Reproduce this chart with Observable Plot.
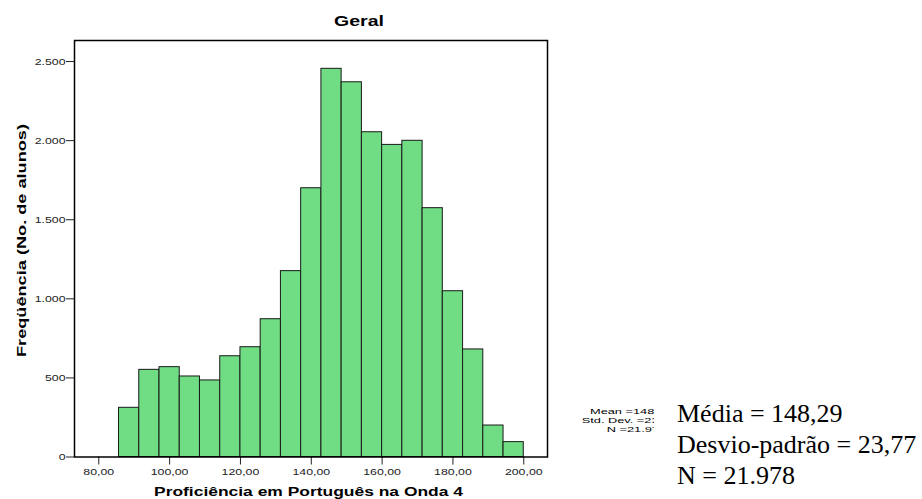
<!DOCTYPE html>
<html><head><meta charset="utf-8">
<script src="https://cdn.jsdelivr.net/npm/d3@7"></script>
<script src="https://cdn.jsdelivr.net/npm/@observablehq/plot@0.6"></script>
<style>
body{margin:0;background:#fff}
#chart{position:relative;width:922px;height:499px}
</style>
</head><body><div id="chart"></div>
<script>
// ---- data ----
const binStart = [85.71, 91.43, 97.14, 102.86, 108.57, 114.29, 120.00, 125.71, 131.43, 137.14, 142.86, 148.57, 154.29, 160.00, 165.71, 171.43, 177.14, 182.86, 188.57, 194.29];
const binEnd   = [91.43, 97.14, 102.86, 108.57, 114.29, 120.00, 125.71, 131.43, 137.14, 142.86, 148.57, 154.29, 160.00, 165.71, 171.43, 177.14, 182.86, 188.57, 194.29, 200.00];
const counts   = [311, 551, 568, 509, 484, 637, 694, 871, 1175, 1699, 2454, 2369, 2053, 1973, 1999, 1573, 1048, 680, 199, 94];
const xTicks = [80, 100, 120, 140, 160, 180, 200];
const yTicks = [0, 500, 1000, 1500, 2000, 2500];
const titleText = "Geral";
const xLabel = "Proficiência em Português na Onda 4";
const yLabel = "Freqüência (No. de alunos)";
const smallStats = ["Mean =148,29", "Std. Dev. =23,77", "N =21.978"];
const bigStats = ["Média = 148,29", "Desvio-padrão = 23,77", "N = 21.978"];

const data = binStart.map((s, i) => ({x1: s, x2: binEnd[i], count: counts[i]}));
const fmtX = d => d.toFixed(2).replace(".", ",");
const fmtY = d => d3.format(",")(d).replace(/,/g, ".");

const chart = Plot.plot({
  width: 922, height: 499,
  marginLeft: 74, marginRight: 375, marginTop: 40, marginBottom: 42.5,
  style: {fontFamily: "'Liberation Sans', Arial, sans-serif", fontSize: "9.5px", color: "#222", background: "#fff"},
  x: {domain: [73.14, 206.7], ticks: xTicks, tickFormat: fmtX, tickSize: 8, tickPadding: 3, label: null},
  y: {domain: [0, 2633], ticks: yTicks, tickFormat: fmtY, tickSize: 8, tickPadding: 1, label: null},
  marks: [
    Plot.rectY(data, {x1: "x1", x2: "x2", y: "count", fill: "#70dc83", stroke: "#1a1a1a", strokeWidth: 1}),
    Plot.frame({stroke: "#000", strokeWidth: 1.5})
  ]
});
document.getElementById("chart").append(chart);

// stretch tick labels horizontally like the reference
chart.querySelectorAll('g[aria-label="x-axis tick label"] text, g[aria-label="y-axis tick label"] text').forEach(t => {
  const tr = t.getAttribute("transform") || "";
  t.setAttribute("transform", tr + " scale(1.3,1)");
});

const svg = d3.select(chart);
const sans = "'Liberation Sans', Arial, sans-serif";
const serif = "'Liberation Serif', 'Times New Roman', serif";

svg.append("text").text(titleText)
  .attr("x", 359).attr("y", 26).attr("text-anchor", "middle")
  .attr("font-family", sans).attr("font-weight", "bold").attr("font-size", 15)
  .attr("textLength", 50).attr("lengthAdjust", "spacingAndGlyphs").attr("fill", "#000");

svg.append("text").text(xLabel)
  .attr("x", 308.5).attr("y", 496).attr("text-anchor", "middle")
  .attr("font-family", sans).attr("font-weight", "bold").attr("font-size", 12)
  .attr("textLength", 309).attr("lengthAdjust", "spacingAndGlyphs").attr("fill", "#000");

svg.append("text").text(yLabel)
  .attr("transform", "translate(21,240.5) rotate(-90)").attr("text-anchor", "middle").attr("dy", "0.35em")
  .attr("font-family", sans).attr("font-weight", "bold").attr("font-size", 13)
  .attr("textLength", 233).attr("lengthAdjust", "spacingAndGlyphs").attr("fill", "#000");

// small SPSS stats box (clipped on the right)
svg.append("clipPath").attr("id", "statclip").append("rect")
  .attr("x", 560).attr("y", 395).attr("width", 94).attr("height", 45);
const sg = svg.append("g").attr("clip-path", "url(#statclip)")
  .attr("font-family", sans).attr("font-size", 8).attr("fill", "#000").attr("text-anchor", "start");
const smallX = [590, 581.7, 606.7];
const smallY = [414, 423, 432];
smallStats.forEach((s, i) => {
  sg.append("text").text(s).attr("text-anchor", "start")
    .attr("transform", `translate(${smallX[i]},${smallY[i]}) scale(1.6,1)`);
});

// big serif stats
const bigY = [421.7, 453.3, 484];
bigStats.forEach((s, i) => {
  svg.append("text").text(s).attr("x", 677).attr("y", bigY[i]).attr("text-anchor", "start")
    .attr("font-family", serif).attr("font-size", 26).attr("fill", "#000");
});
</script>
</body></html>
